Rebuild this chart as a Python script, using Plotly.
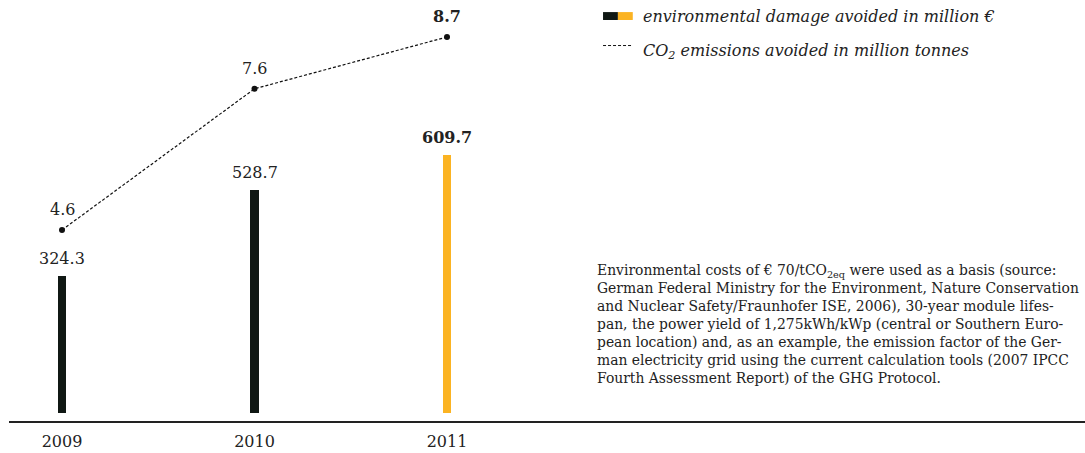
import plotly.graph_objects as go

# Data
years = [2009, 2010, 2011]
damage_avoided = [324.3, 528.7, 609.7]      # million €
co2_avoided = [4.6, 7.6, 8.7]               # million tonnes
bar_colors = ["#101814", "#101814", "#fbb322"]
highlight = [False, False, True]

SERIF = "DejaVu Serif"
TEXT = "#222222"

fig = go.Figure()

fig.add_trace(go.Bar(
    x=years, y=damage_avoided, width=0.042,
    marker=dict(color=bar_colors, line=dict(width=0)),
    yaxis="y", showlegend=False, hoverinfo="skip",
))

fig.add_trace(go.Scatter(
    x=years, y=co2_avoided, yaxis="y2", mode="lines+markers",
    line=dict(color="#111111", width=1.2, dash="3px,2px"),
    marker=dict(color="#111111", size=6),
    showlegend=False, hoverinfo="skip", cliponaxis=False,
))

annotations = []
for x, v, hl in zip(years, damage_avoided, highlight):
    t = f"{v:.1f}"
    annotations.append(dict(
        x=x, y=v, xref="x", yref="y", text=f"<b>{t}</b>" if hl else t,
        showarrow=False, yanchor="bottom", yshift=6,
        font=dict(family=SERIF, size=16, color=TEXT),
    ))
for x, v, hl in zip(years, co2_avoided, highlight):
    t = f"{v:.1f}"
    annotations.append(dict(
        x=x, y=v, xref="x", yref="y2", text=f"<b>{t}</b>" if hl else t,
        showarrow=False, yanchor="bottom", yshift=9,
        font=dict(family=SERIF, size=16, color=TEXT),
    ))

# Legend entries
W, H = 1085, 453
def px(x):
    return x / W
def py(y):
    return 1 - y / H

annotations += [
    dict(x=px(637), y=py(18), xref="paper", yref="paper", xanchor="left", yanchor="middle",
         text="<i>environmental damage avoided in million €</i>", showarrow=False,
         font=dict(family=SERIF, size=16, color=TEXT)),
    dict(x=px(637), y=py(55), xref="paper", yref="paper", xanchor="left", yanchor="middle",
         text="<i>CO<sub>2</sub> emissions avoided in million tonnes</i>", showarrow=False,
         font=dict(family=SERIF, size=16, color=TEXT)),
]

note = ("Environmental costs of € 70/tCO<sub>2eq</sub> were used as a basis (source:<br>"
        "German Federal Ministry for the Environment, Nature Conservation<br>"
        "and Nuclear Safety/Fraunhofer ISE, 2006), 30-year module lifes-<br>"
        "pan, the power yield of 1,275kWh/kWp (central or Southern Euro-<br>"
        "pean location) and, as an example, the emission factor of the Ger-<br>"
        "man electricity grid using the current calculation tools (2007 IPCC<br>"
        "Fourth Assessment Report) of the GHG Protocol.")
annotations.append(dict(
    x=px(591), y=py(280), xref="paper", yref="paper", xanchor="left", yanchor="top",
    align="left", text=note, showarrow=False,
    font=dict(family=SERIF, size=13.9, color=TEXT),
))

shapes = [
    dict(type="rect", xref="paper", yref="paper", x0=px(599), x1=px(614), y0=py(13), y1=py(21.5),
         fillcolor="#101814", line=dict(width=0)),
    dict(type="rect", xref="paper", yref="paper", x0=px(614), x1=px(629), y0=py(13), y1=py(21.5),
         fillcolor="#fbb322", line=dict(width=0)),
    dict(type="line", xref="paper", yref="paper", x0=px(599), x1=px(629), y0=py(49), y1=py(49),
         line=dict(color="#111111", width=1, dash="3px,2px")),
]

fig.update_layout(
    width=W, height=H,
    margin=dict(l=9, r=0, t=0, b=32),
    paper_bgcolor="white", plot_bgcolor="white",
    annotations=annotations, shapes=shapes,
    xaxis=dict(
        range=[2008.7247, 2014.3143], tickvals=years, ticktext=[str(y) for y in years],
        showgrid=False, zeroline=False, showline=True, linecolor="#222222", linewidth=1.5,
        ticks="outside", ticklen=5, tickcolor="rgba(0,0,0,0)",
        tickfont=dict(family=SERIF, size=16, color=TEXT),
    ),
    yaxis=dict(range=[-18.93, 977.5], visible=False, showgrid=False, zeroline=False),
    yaxis2=dict(range=[0.5417, 9.486], overlaying="y", visible=False, showgrid=False, zeroline=False),
    bargap=0,
)

fig.write_html("out.html")
